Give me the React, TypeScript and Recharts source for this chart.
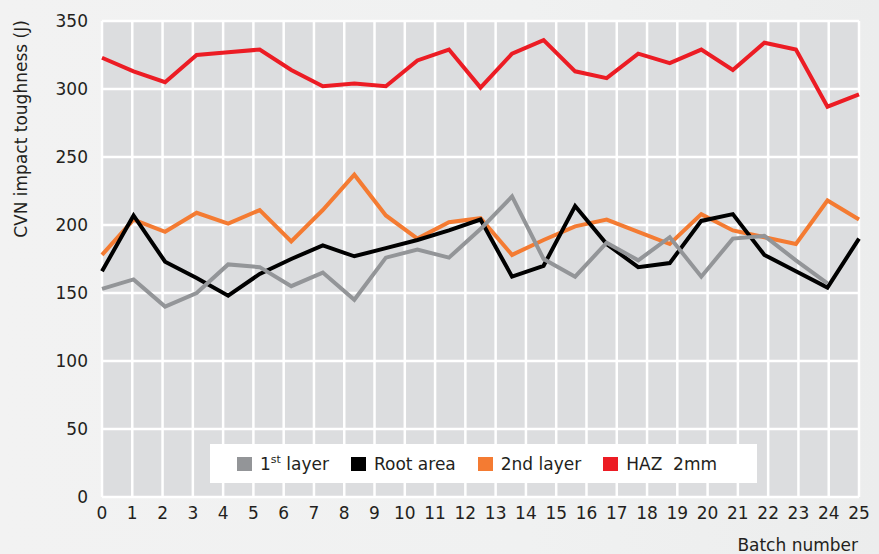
import {
  LineChart,
  Line,
  CartesianGrid,
  XAxis,
  YAxis,
  Label,
} from 'recharts';

const batchTicks = [0, 1, 2, 3, 4, 5, 6, 7, 8, 9, 10, 11, 12, 13, 14, 15, 16, 17, 18, 19, 20, 21, 22, 23, 24, 25];
const toughnessTicks = [0, 50, 100, 150, 200, 250, 300, 350];

// 25 test sets spread evenly over the batch axis
const firstLayer = [153, 160, 140, 150, 171, 169, 155, 165, 145, 176, 182, 176, 197, 221, 175, 162, 187, 174, 191, 162, 190, 192, 174, 157, null];
const rootArea = [166, 207, 173, 161, 148, 164, 175, 185, 177, 183, 189, 196, 204, 162, 170, 214, 186, 169, 172, 203, 208, 178, 166, 154, 190];
const secondLayer = [178, 204, 195, 209, 201, 211, 188, 211, 237, 207, 190, 202, 205, 178, 189, 199, 204, 195, 186, 208, 196, 191, 186, 218, 204];
const haz2mm = [323, 313, 305, 325, 327, 329, 314, 302, 304, 302, 321, 329, 301, 326, 336, 313, 308, 326, 319, 329, 314, 334, 329, 287, 296];

const data = haz2mm.map((v, i) => ({
  idx: i,
  first: firstLayer[i],
  root: rootArea[i],
  second: secondLayer[i],
  haz: v,
}));

const FONT = '"DejaVu Sans", "Liberation Sans", sans-serif';
const TEXT = '#231f20';

const legendItems = [
  { key: 'first', color: '#939598', label: <>1<sup style={{ fontSize: 11, verticalAlign: 'super', lineHeight: 0 }}>st</sup> layer</> },
  { key: 'root', color: '#000000', label: 'Root area' },
  { key: 'second', color: '#f47b32', label: '2nd layer' },
  { key: 'haz', color: '#ec1c24', label: 'HAZ\u00a0\u00a02mm' },
];

function ChartLegend() {
  return (
    <div
      style={{
        position: 'absolute',
        left: 210,
        top: 444,
        width: 547,
        height: 39,
        background: '#ffffff',
        display: 'flex',
        alignItems: 'center',
        paddingLeft: 27,
        boxSizing: 'border-box',
        gap: 22,
        fontFamily: FONT,
        fontSize: 17,
        color: TEXT,
      }}
    >
      {legendItems.map((it) => (
        <div key={it.key} style={{ display: 'flex', alignItems: 'center' }}>
          <span style={{ width: 15, height: 14, background: it.color, display: 'inline-block', marginRight: 8 }} />
          <span>{it.label}</span>
        </div>
      ))}
    </div>
  );
}

export default function App() {
  return (
    <div
      style={{
        position: 'absolute',
        left: 0,
        top: 0,
        width: 879,
        height: 554,
        background: 'linear-gradient(90deg, #f2f2f2 0%, #f0f1f1 60%, #eceded 100%)',
      }}
    >
      <LineChart width={879} height={554} data={data} margin={{ top: 21, right: 20, left: 0, bottom: 0 }}>
        <CartesianGrid
          xAxisId="batch"
          yAxisId="val"
          fill="#dcdddf"
          fillOpacity={1}
          stroke="#ffffff"
          strokeWidth={2.5}
        />
        <XAxis xAxisId="data" dataKey="idx" type="number" domain={[0, 24]} hide />
        <XAxis
          xAxisId="batch"
          dataKey="idx"
          type="number"
          domain={[0, 25]}
          ticks={batchTicks}
          interval={0}
          height={57}
          axisLine={false}
          tickLine={false}
          tickSize={0}
          tickMargin={10}
          tick={{ fill: TEXT, fontSize: 17, fontFamily: FONT }}
        >
          <Label
            content={() => (
              <text x={858} y={551} textAnchor="end" fill={TEXT} fontSize={17} fontFamily={FONT}>
                Batch number
              </text>
            )}
          />
        </XAxis>
        <YAxis
          yAxisId="val"
          type="number"
          domain={[0, 350]}
          ticks={toughnessTicks}
          width={102}
          axisLine={false}
          tickLine={false}
          tickSize={0}
          tickMargin={14}
          tick={{ fill: TEXT, fontSize: 17, fontFamily: FONT }}
        >
          <Label
            content={() => (
              <text
                x={21}
                y={129}
                transform="rotate(-90, 21, 129)"
                textAnchor="middle"
                dominantBaseline="central"
                fill={TEXT}
                fontSize={17}
                fontFamily={FONT}
              >
                CVN impact toughness (J)
              </text>
            )}
          />
        </YAxis>
        <Line xAxisId="data" yAxisId="val" dataKey="haz" stroke="#ec1c24" strokeWidth={4} dot={false} type="linear" isAnimationActive={false} />
        <Line xAxisId="data" yAxisId="val" dataKey="second" stroke="#f47b32" strokeWidth={4} dot={false} type="linear" isAnimationActive={false} />
        <Line xAxisId="data" yAxisId="val" dataKey="root" stroke="#000000" strokeWidth={4} dot={false} type="linear" isAnimationActive={false} />
        <Line xAxisId="data" yAxisId="val" dataKey="first" stroke="#939598" strokeWidth={4} dot={false} type="linear" isAnimationActive={false} />
      </LineChart>
      <ChartLegend />
    </div>
  );
}
